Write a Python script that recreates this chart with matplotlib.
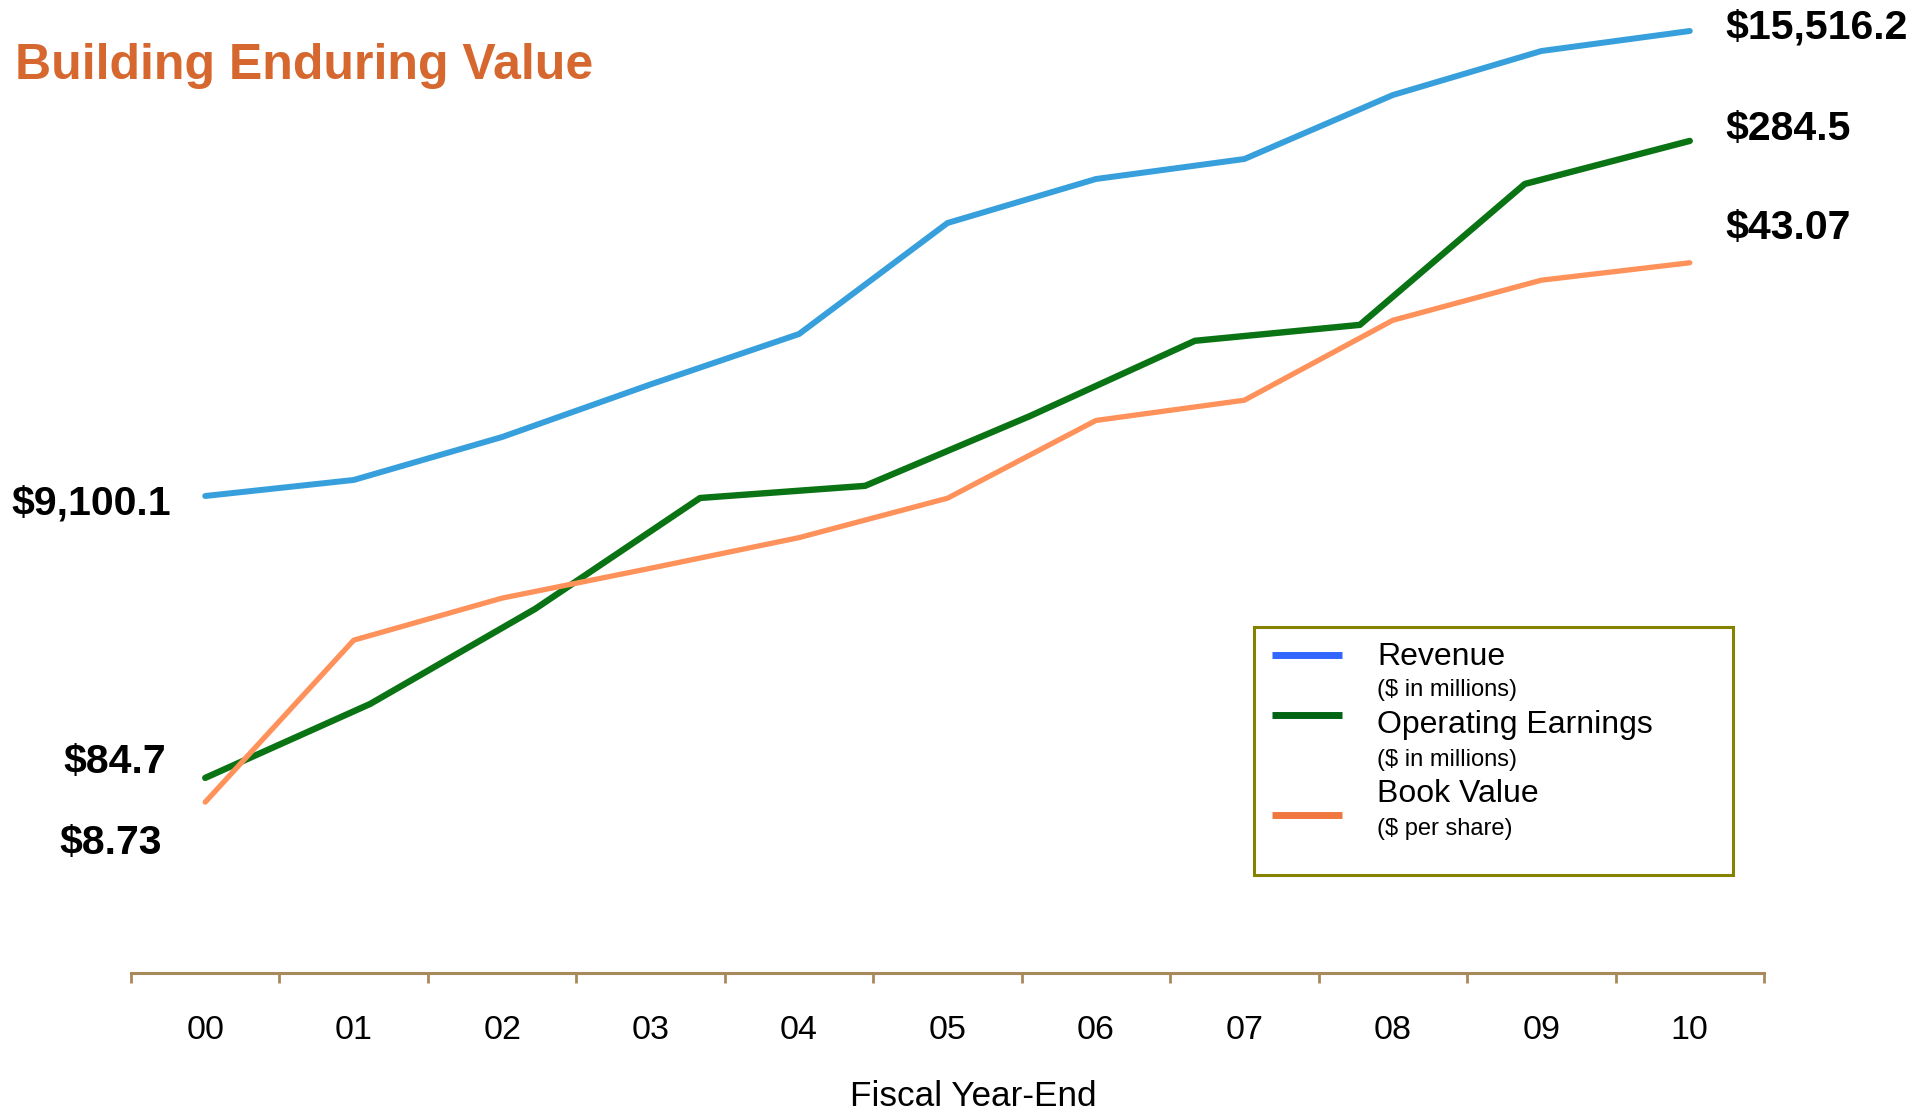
import numpy as np
import matplotlib.pyplot as plt
from matplotlib.patches import Rectangle

plt.rcParams['font.family'] = ['Liberation Sans', 'DejaVu Sans']

years = ['00', '01', '02', '03', '04', '05', '06', '07', '08', '09', '10']

# revenue and operating earnings in $ millions, book value in $ per share
revenue = [9100.1, 9321, 9914, 10640, 11335, 12867, 13474, 13750, 14633, 15240, 15516.2]
earnings = [84.7, 107.9, 137.7, 172.5, 176.3, 198.2, 221.8, 226.8, 271.0, 284.5]
book_value = [8.73, 19.04, 21.72, 23.62, 25.57, 28.08, 33.03, 34.32, 39.41, 41.96, 43.07]

blue = '#37a0dc'
green = '#0a7414'
orange = '#ff915a'
tan = '#a8895a'

W, H = 1932, 1111
fig = plt.figure(figsize=(W / 100, H / 100), dpi=100)

# base axes only carries the year axis
ax = fig.add_axes([131 / W, (H - 973) / H, (1764 - 131) / W, 973 / H])
ax.set_xlim(-0.5, 10.5)
ax.set_yticks([])
for side in ['left', 'right', 'top']:
    ax.spines[side].set_visible(False)
ax.spines['bottom'].set_color(tan)
ax.spines['bottom'].set_linewidth(2.2)
ax.set_xticks(range(len(years)))
ax.set_xticklabels(years, fontsize=24.5)
ax.set_xticks(np.arange(-0.5, 11, 1), minor=True)
ax.tick_params(axis='x', which='major', length=0, pad=30)
ax.tick_params(axis='x', which='minor', length=7.5, width=2, color=tan, direction='out')
ax.set_xlabel('Fiscal Year-End', fontsize=25.3, labelpad=25, x=0.5156)
ax.patch.set_alpha(0)

x_years = np.arange(len(revenue))
x_earn = np.linspace(0, 10, len(earnings))


def series_axes(ylim):
    a = ax.twinx()
    a.set_ylim(*ylim)
    a.axis('off')
    a.set_xlim(-0.5, 10.5)
    return a


ax_rev = series_axes((2518, 15944))
ax_earn = series_axes((23.5, 328.7))
ax_bv = series_axes((-2.15, 59.8))

ax_bv.plot(x_years, book_value, color=orange, lw=3.8, solid_capstyle='round', solid_joinstyle='round')
ax_earn.plot(x_earn, earnings, color=green, lw=4.6, solid_capstyle='round', solid_joinstyle='round')
ax_rev.plot(x_years, revenue, color=blue, lw=4.3, solid_capstyle='round', solid_joinstyle='round')

lbl = dict(fontsize=29.5, fontweight='bold', textcoords='offset pixels', va='center')

ax_rev.annotate('$9,100.1', (x_years[0], revenue[0]), xytext=(-34, -8), ha='right', **lbl)
ax_earn.annotate('$84.7', (x_earn[0], earnings[0]), xytext=(-39, 16), ha='right', **lbl)
ax_bv.annotate('$8.73', (x_years[0], book_value[0]), xytext=(-43, -41), ha='right', **lbl)

ax_rev.annotate('$15,516.2', (x_years[-1], revenue[-1]), xytext=(36, 4), ha='left', **lbl)
ax_earn.annotate('$284.5', (x_earn[-1], earnings[-1]), xytext=(36, 12), ha='left', **lbl)
ax_bv.annotate('$43.07', (x_years[-1], book_value[-1]), xytext=(36, 35), ha='left', **lbl)

# overlay in pixel units for title and legend box
ov = fig.add_axes([0, 0, 1, 1])
ov.set_xlim(0, W)
ov.set_ylim(H, 0)
ov.axis('off')

ov.text(15, 79, 'Building Enduring Value', fontsize=36, fontweight='bold',
        color='#d5672f', va='baseline', ha='left')

ov.add_patch(Rectangle((1254, 627), 479, 248, facecolor='white', edgecolor='#858200', lw=2.2))
legend_rows = [
    ('Revenue', '($ in millions)', '#3366ff', 655, 665, 696),
    ('Operating Earnings', '($ in millions)', '#006414', 715, 733, 766),
    ('Book Value', '($ per share)', '#f07840', 815, 802, 835),
]
for name, unit, col, yl, yname, yunit in legend_rows:
    ov.plot([1272, 1342], [yl, yl], color=col, lw=5, solid_capstyle='butt')
    ov.text(1377, yname, name, fontsize=23, va='baseline', ha='left')
    ov.text(1377, yunit, unit, fontsize=17, va='baseline', ha='left')

fig.savefig('out.png', dpi=100)
